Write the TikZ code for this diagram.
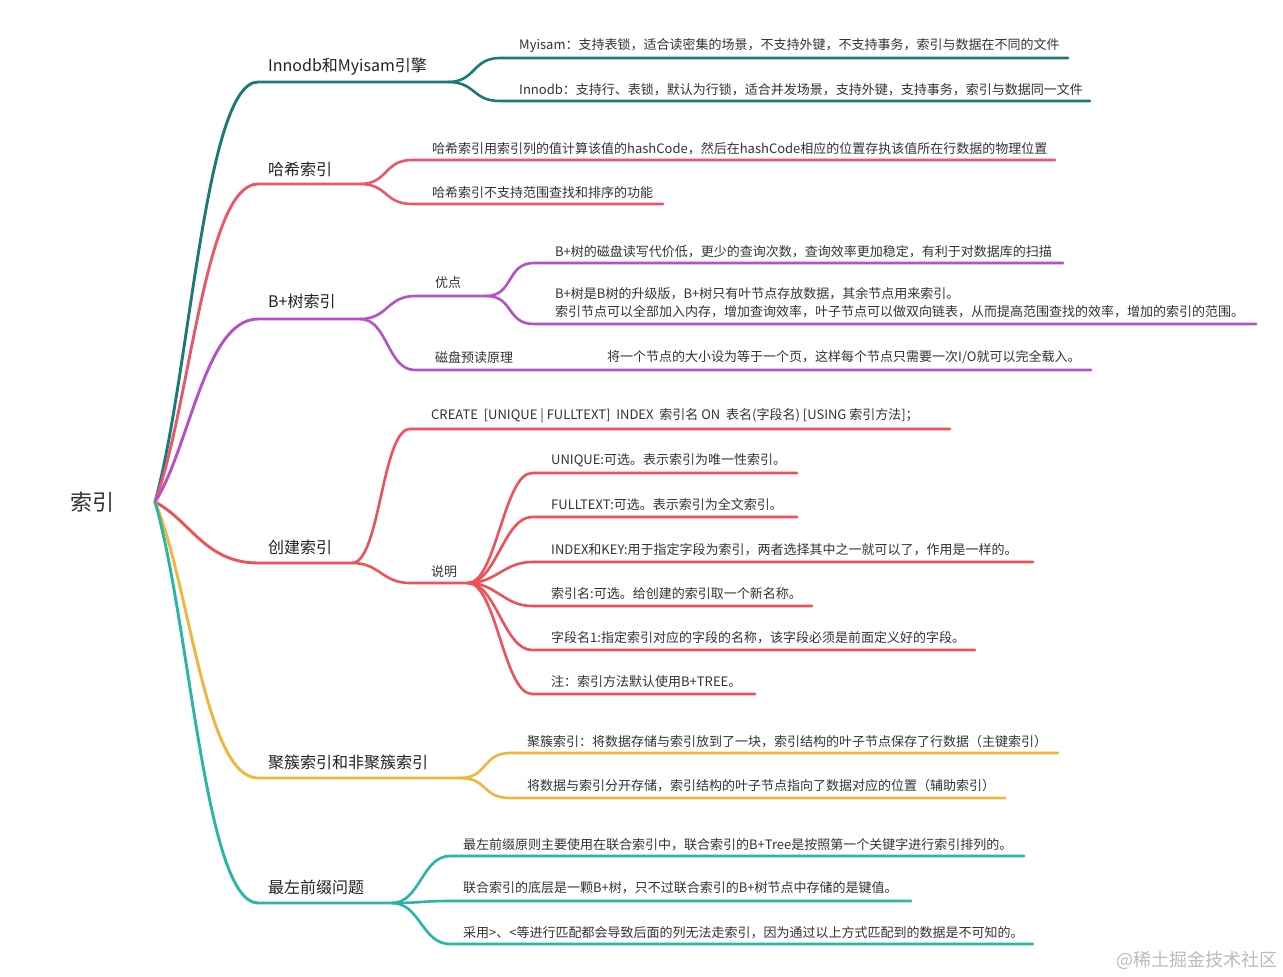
\documentclass[tikz,border=0pt]{standalone}
\usepackage{fontspec}
\newfontfamily\cjk{Noto Sans CJK SC}
\usetikzlibrary{calc}
\definecolor{cA}{HTML}{1B7A76}
\definecolor{cB}{HTML}{E8586C}
\definecolor{cC}{HTML}{B550C8}
\definecolor{cD}{HTML}{EE5257}
\definecolor{cE}{HTML}{F2B53C}
\definecolor{cF}{HTML}{2AB5A6}
\definecolor{txt}{HTML}{333333}
\definecolor{labtxt}{HTML}{222222}
\definecolor{wm}{HTML}{BBBBBB}
\tikzset{
  leaf/.style={anchor=west, inner sep=0pt, yshift=-1.2pt, text=txt, font=\cjk\fontsize{13}{18}\selectfont},
  lab/.style={anchor=west, inner sep=0pt, yshift=-1.5pt, text=labtxt, font=\cjk\fontsize{16}{19}\selectfont},
  rootlab/.style={inner sep=0pt, text=txt, font=\cjk\fontsize{22}{26}\selectfont},
  br/.style={line width=2.9pt, line cap=round},
  lf/.style={line width=2.6pt, line cap=round},
}
% #1 colour, #2 parent coordinate, #3 start x, #4 y, #5 end x, #6 name
\newcommand\mmkid[6]{%
  \coordinate (#6s) at (#3,#4);
  \coordinate (#6e) at (#5,#4);
  \draw[lf,#1] (#2) .. controls +(28,0) and +(-28,0) .. (#6s) -- (#6e);}
% #1 colour, #2 y, #3 ctrl y, #4 end x, #5 name
\newcommand\mmbranch[5]{%
  \coordinate (#5s) at (258,#2);
  \coordinate (#5e) at (#4,#2);
  \draw[br,#1] (o) .. controls (190,#3) and (205,#2) .. (#5s) -- (#5e);}
\begin{document}
\begin{tikzpicture}[x=1pt,y=-1pt]
\useasboundingbox[fill=white] (0,0) rectangle (1283,977);
\node[rootlab] (root) at (92,502) {索引};
\coordinate (o) at (155,502);

% Branch 1
\mmbranch{cA}{82}{376}{448}{b1}
\node[lab] (l1) at (268,65) {Innodb和Myisam引擎};
\mmkid{cA}{b1e}{500}{58}{1068}{k11}
\node[leaf] (t11) at (519,44) {Myisam：支持表锁，适合读密集的场景，不支持外键，不支持事务，索引与数据在不同的文件};
\mmkid{cA}{b1e}{500}{101}{1090}{k12}
\node[leaf] (t12) at (519,88) {Innodb：支持行、表锁，默认为行锁，适合并发场景，支持外键，支持事务，索引与数据同一文件};

% Branch 2
\mmbranch{cB}{184}{407}{360}{b2}
\node[lab] (l2) at (268,168) {哈希索引};
\mmkid{cB}{b2e}{412}{160}{1055}{k21}
\node[leaf] (t21) at (432,147) {哈希索引用索引列的值计算该值的hashCode，然后在hashCode相应的位置存执该值所在行数据的物理位置};
\mmkid{cB}{b2e}{412}{204}{663}{k22}
\node[leaf] (t22) at (432,191) {哈希索引不支持范围查找和排序的功能};

% Branch 3
\mmbranch{cC}{319}{447}{360}{b3}
\node[lab] (l3) at (268,300) {B+树索引};
\mmkid{cC}{b3e}{415}{296}{486}{k31}
\node[leaf] (t31) at (435,281) {优点};
\mmkid{cC}{k31e}{534}{263}{1063}{k311}
\node[leaf] (t311) at (555,250) {B+树的磁盘读写代价低，更少的查询次数，查询效率更加稳定，有利于对数据库的扫描};
\mmkid{cC}{k31e}{534}{324}{1256}{k312}
\node[leaf, align=left, anchor=north west] (t312) at (555,286) {B+树是B树的升级版，B+树只有叶节点存放数据，其余节点用来索引。\\索引节点可以全部加入内存，增加查询效率，叶子节点可以做双向链表，从而提高范围查找的效率，增加的索引的范围。};
\mmkid{cC}{b3e}{415}{370}{1091}{k32}
\node[leaf] (t32) at (435,356) {磁盘预读原理};
\node[leaf] (t321) at (607,356) {将一个节点的大小设为等于一个页，这样每个节点只需要一次I/O就可以完全载入。};

% Branch 4
\mmbranch{cD}{563}{520}{352}{b4}
\node[lab] (l4) at (268,546) {创建索引};
\mmkid{cD}{b4e}{410}{429}{950}{k41}
\node[leaf] (t41) at (431,415) {CREATE~~[UNIQUE | FULLTEXT]~~INDEX~~索引名 ON~~表名(字段名) [USING 索引方法]；};
\mmkid{cD}{b4e}{410}{583}{468}{k42}
\node[leaf] (t42) at (431,570) {说明};
\mmkid{cD}{k42e}{532}{473}{797}{k421}
\node[leaf] (t421) at (551,459) {UNIQUE:可选。表示索引为唯一性索引。};
\mmkid{cD}{k42e}{532}{517}{797}{k422}
\node[leaf] (t422) at (551,503) {FULLTEXT:可选。表示索引为全文索引。};
\mmkid{cD}{k42e}{532}{562}{1033}{k423}
\node[leaf] (t423) at (551,548) {INDEX和KEY:用于指定字段为索引，两者选择其中之一就可以了，作用是一样的。};
\mmkid{cD}{k42e}{532}{606}{812}{k424}
\node[leaf] (t424) at (551,592) {索引名:可选。给创建的索引取一个新名称。};
\mmkid{cD}{k42e}{532}{650}{975}{k425}
\node[leaf] (t425) at (551,636) {字段名1:指定索引对应的字段的名称，该字段必须是前面定义好的字段。};
\mmkid{cD}{k42e}{532}{694}{755}{k426}
\node[leaf] (t426) at (551,680) {注：索引方法默认使用B+TREE。};

% Branch 5
\mmbranch{cE}{778}{585}{460}{b5}
\node[lab] (l5) at (268,761) {聚簇索引和非聚簇索引};
\mmkid{cE}{b5e}{510}{753}{1058}{k51}
\node[leaf] (t51) at (527,740) {聚簇索引：将数据存储与索引放到了一块，索引结构的叶子节点保存了行数据（主键索引）};
\mmkid{cE}{b5e}{510}{798}{1005}{k52}
\node[leaf] (t52) at (527,784) {将数据与索引分开存储，索引结构的叶子节点指向了数据对应的位置（辅助索引）};

% Branch 6
\mmbranch{cF}{903}{622}{392}{b6}
\node[lab] (l6) at (268,886) {最左前缀问题};
\mmkid{cF}{b6e}{450}{856}{1024}{k61}
\node[leaf] (t61) at (463,843) {最左前缀原则主要使用在联合索引中，联合索引的B+Tree是按照第一个关键字进行索引排列的。};
\mmkid{cF}{b6e}{450}{901}{911}{k62}
\node[leaf] (t62) at (463,887) {联合索引的底层是一颗B+树，只不过联合索引的B+树节点中存储的是键值。};
\mmkid{cF}{b6e}{450}{944}{1033}{k63}
\node[leaf] (t63) at (463,931) {采用>、<等进行匹配都会导致后面的列无法走索引，因为通过以上方式匹配到的数据是不可知的。};

\node[anchor=east, inner sep=0pt, text=wm, font=\cjk\fontsize{18}{20}\selectfont] (wmk) at (1278,960) {@稀土掘金技术社区};
\end{tikzpicture}
\end{document}
